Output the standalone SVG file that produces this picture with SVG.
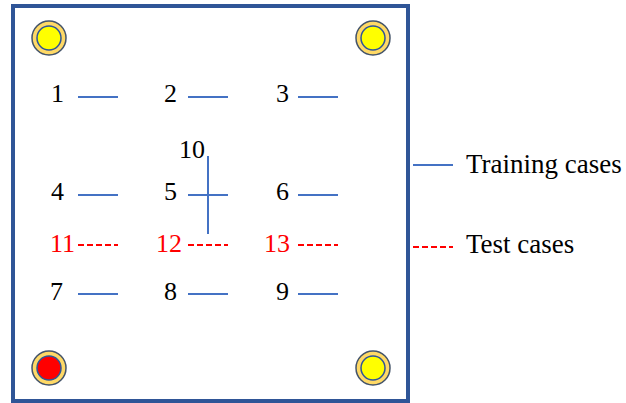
<svg xmlns="http://www.w3.org/2000/svg" width="626" height="403" viewBox="0 0 626 403">
<style>
text{font-family:"Liberation Serif","Times New Roman",serif;font-size:26px;fill:#000}
.r{fill:#FF0000}
.tr{stroke:#4472C4;stroke-width:2;fill:none}
.te{stroke:#FF0000;stroke-width:2;stroke-dasharray:6 3;fill:none}
.po{fill:#FFD966;stroke:#44546A;stroke-width:1.5}
.pi{stroke:#2F5597;stroke-width:1.5}
</style>
<rect id="frame" x="13" y="6" width="395" height="395" fill="#fff" stroke="#2F5597" stroke-width="4"/>
<g id="sensor-tl"><circle class="po" cx="49" cy="38" r="17"/><circle class="pi" cx="49" cy="38" r="12" fill="#FFFF00"/></g>
<g id="sensor-tr"><circle class="po" cx="373" cy="38" r="17"/><circle class="pi" cx="373" cy="38" r="12" fill="#FFFF00"/></g>
<g id="sensor-bl"><circle class="po" cx="49" cy="368" r="17"/><circle class="pi" cx="49" cy="368" r="12" fill="#FF0000"/></g>
<g id="sensor-br"><circle class="po" cx="373" cy="368" r="17"/><circle class="pi" cx="373" cy="368" r="12" fill="#FFFF00"/></g>
<g id="connectors">
<line class="tr" x1="78" y1="97" x2="118" y2="97"/>
<line class="tr" x1="188" y1="97" x2="228" y2="97"/>
<line class="tr" x1="298" y1="97" x2="338" y2="97"/>
<line class="tr" x1="78" y1="195" x2="118" y2="195"/>
<line class="tr" x1="188" y1="195" x2="228" y2="195"/>
<line class="tr" x1="298" y1="195" x2="338" y2="195"/>
<line class="tr" x1="208" y1="156" x2="208" y2="234"/>
<line class="te" x1="78" y1="245" x2="118" y2="245"/>
<line class="te" x1="188" y1="245" x2="228" y2="245"/>
<line class="te" x1="298" y1="245" x2="338" y2="245"/>
<line class="tr" x1="413" y1="165" x2="453" y2="165"/>
<line class="te" x1="413" y1="247" x2="453" y2="247"/>
<line class="tr" x1="78" y1="294" x2="118" y2="294"/>
<line class="tr" x1="188" y1="294" x2="228" y2="294"/>
<line class="tr" x1="298" y1="294" x2="338" y2="294"/>
</g>
<g id="labels">
<text x="51" y="102">1</text>
<text x="164" y="102">2</text>
<text x="276" y="102">3</text>
<text x="179" y="158">10</text>
<text x="51" y="200">4</text>
<text x="164" y="200">5</text>
<text x="276" y="200">6</text>
<text class="r" x="50" y="252">11</text>
<text class="r" x="156" y="252">12</text>
<text class="r" x="264" y="252">13</text>
<text x="50" y="300">7</text>
<text x="164" y="300">8</text>
<text x="276" y="300">9</text>
</g>
<g id="legend">
<text x="466" y="173" style="font-size:27px">Training cases</text>
<text x="466" y="253" style="font-size:27px">Test cases</text>
</g>
</svg>
